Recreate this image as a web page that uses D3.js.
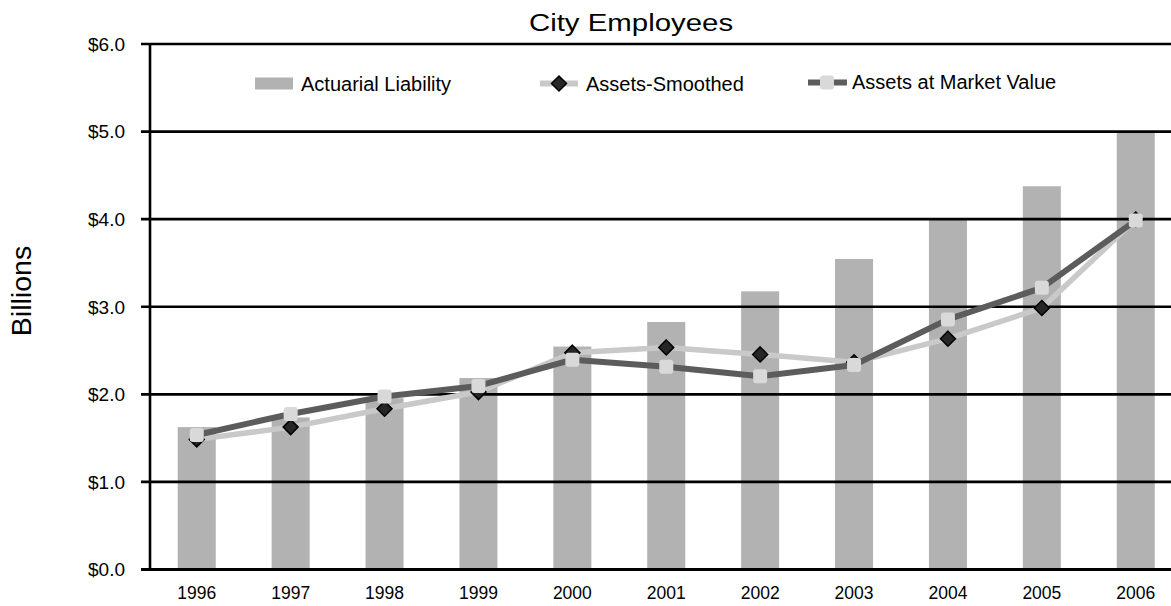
<!DOCTYPE html>
<html>
<head>
<meta charset="utf-8">
<script src="https://cdn.jsdelivr.net/npm/d3@7"></script>
<style>
  html, body { margin: 0; padding: 0; background: #fff; }
  svg { display: block; font-family: "Liberation Sans", Arial, sans-serif; }
</style>
</head>
<body>
<svg id="chart" width="1171" height="606"></svg>
<script>
// Pension funding, City Employees (billions of dollars)
const years = ["1996", "1997", "1998", "1999", "2000", "2001", "2002", "2003", "2004", "2005", "2006"];
const actuarialLiability = [1.62, 1.73, 1.95, 2.18, 2.54, 2.82, 3.17, 3.54, 4.00, 4.37, 4.98];
const assetsSmoothed     = [1.48, 1.62, 1.83, 2.02, 2.47, 2.53, 2.45, 2.36, 2.63, 2.98, 3.99];
const assetsMarket       = [1.53, 1.77, 1.97, 2.09, 2.39, 2.31, 2.20, 2.33, 2.85, 3.21, 3.98];
const yTicks = [0, 1, 2, 3, 4, 5, 6];
const legendLabels = ["Actuarial Liability", "Assets-Smoothed", "Assets at Market Value"];

const svg = d3.select("#chart");
const W = 1171;

const x = d3.scaleBand()
  .domain(years)
  .range([149.8, 149.8 + 11 * 93.9])
  .paddingInner(0.595)
  .paddingOuter(0.2975);

const y = d3.scaleLinear().domain([0, 6]).range([569, 43.5]);

const cx = d => x(d) + x.bandwidth() / 2;

const BAR = "#b2b2b2", LIGHT = "#c9c9c9", DARK = "#5c5c5c", SQ = "#d9d9d9";

// title
svg.append("text")
  .attr("transform", "translate(631,31) scale(1.2,1)")
  .attr("text-anchor", "middle")
  .attr("font-size", 24.5)
  .attr("fill", "#000")
  .text("City Employees");

// bars
svg.append("g").selectAll("rect")
  .data(years)
  .join("rect")
  .attr("x", d => x(d))
  .attr("width", x.bandwidth())
  .attr("y", (d, i) => y(actuarialLiability[i]))
  .attr("height", (d, i) => y(0) - y(actuarialLiability[i]))
  .attr("fill", BAR);

// horizontal grid lines with left ticks
const yAxis = d3.axisLeft(y)
  .tickValues(yTicks)
  .tickSize(-(W - 141))
  .tickPadding(16)
  .tickFormat(d => "$" + d3.format(".1f")(d));

const gy = svg.append("g")
  .attr("transform", "translate(141,0)")
  .call(yAxis);
gy.select(".domain").remove();
gy.selectAll(".tick line")
  .attr("stroke", "#000")
  .attr("stroke-width", 2.6);
gy.selectAll(".tick text")
  .attr("font-size", 19)
  .attr("font-family", "Liberation Sans, Arial, sans-serif")
  .attr("fill", "#000")
  .attr("x", -16)
  .attr("dy", "0.36em");
gy.selectAll(".tick").filter(d => d === 0).select("line").attr("stroke-width", 3);

// vertical axis line
svg.append("line")
  .attr("x1", 150).attr("x2", 150)
  .attr("y1", y(6)).attr("y2", y(0))
  .attr("stroke", "#000").attr("stroke-width", 2.6);

// x axis labels
const xAxis = d3.axisBottom(x).tickSize(0).tickPadding(18);
const gx = svg.append("g")
  .attr("transform", `translate(0,${y(0)})`)
  .call(xAxis);
gx.select(".domain").remove();
gx.selectAll(".tick text")
  .attr("font-size", 17.5)
  .attr("font-family", "Liberation Sans, Arial, sans-serif")
  .attr("fill", "#000");

// y axis title
svg.append("text")
  .attr("transform", "translate(31,291) rotate(-90)")
  .attr("text-anchor", "middle")
  .attr("font-size", 28.5)
  .attr("fill", "#000")
  .text("Billions");

// series lines
const line = d3.line().x(d => cx(d.year)).y(d => y(d.v));
const smoothPts = years.map((yr, i) => ({ year: yr, v: assetsSmoothed[i] }));
const marketPts = years.map((yr, i) => ({ year: yr, v: assetsMarket[i] }));

svg.append("path")
  .datum(smoothPts)
  .attr("d", line)
  .attr("fill", "none")
  .attr("stroke", LIGHT)
  .attr("stroke-width", 5.5)
  .attr("stroke-linejoin", "round");

const diamond = s => `M0,${-s}L${s},0L0,${s}L${-s},0Z`;

svg.append("g").selectAll("path")
  .data(smoothPts)
  .join("path")
  .attr("transform", d => `translate(${cx(d.year)},${y(d.v)})`)
  .attr("d", diamond(7.5))
  .attr("fill", "#262626")
  .attr("stroke", "#000")
  .attr("stroke-width", 1.5);

svg.append("path")
  .datum(marketPts)
  .attr("d", line)
  .attr("fill", "none")
  .attr("stroke", DARK)
  .attr("stroke-width", 6)
  .attr("stroke-linejoin", "round");

svg.append("g").selectAll("rect")
  .data(marketPts)
  .join("rect")
  .attr("x", d => cx(d.year) - 7)
  .attr("y", d => y(d.v) - 7)
  .attr("width", 14)
  .attr("height", 14)
  .attr("rx", 3)
  .attr("fill", SQ);

// legend
const lg = svg.append("g");
const ly = 83.5;
lg.append("rect")
  .attr("x", 255).attr("y", ly - 6).attr("width", 38).attr("height", 12)
  .attr("fill", BAR);
lg.append("text")
  .attr("x", 301).attr("y", ly).attr("dy", "0.35em")
  .attr("font-size", 20).attr("fill", "#000")
  .text(legendLabels[0]);

lg.append("line")
  .attr("x1", 540).attr("x2", 578).attr("y1", ly).attr("y2", ly)
  .attr("stroke", LIGHT).attr("stroke-width", 6);
lg.append("path")
  .attr("transform", `translate(559,${ly})`)
  .attr("d", diamond(7.5))
  .attr("fill", "#262626").attr("stroke", "#000").attr("stroke-width", 1.5);
lg.append("text")
  .attr("x", 586).attr("y", ly).attr("dy", "0.35em")
  .attr("font-size", 20).attr("fill", "#000")
  .text(legendLabels[1]);

lg.append("line")
  .attr("x1", 808).attr("x2", 847).attr("y1", ly - 1).attr("y2", ly - 1)
  .attr("stroke", DARK).attr("stroke-width", 6);
lg.append("rect")
  .attr("x", 820).attr("y", ly - 8).attr("width", 14).attr("height", 14).attr("rx", 3)
  .attr("fill", SQ);
lg.append("text")
  .attr("x", 852).attr("y", ly - 2).attr("dy", "0.35em")
  .attr("font-size", 20).attr("fill", "#000")
  .text(legendLabels[2]);
</script>
</body>
</html>
